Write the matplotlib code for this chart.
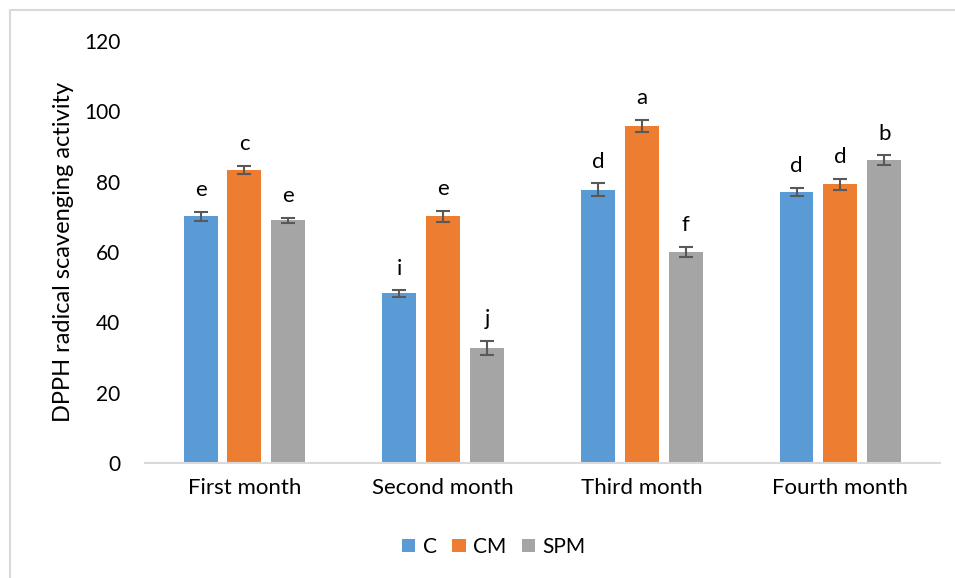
import numpy as np
import matplotlib.pyplot as plt
from matplotlib.patches import Rectangle

plt.rcParams['font.family'] = ['Lato', 'DejaVu Sans']

months = ['First month', 'Second month', 'Third month', 'Fourth month']
series = ['C', 'CM', 'SPM']
colors = ['#5b9bd5', '#ed7d31', '#a5a5a5']

c_vals = [70.1, 48.2, 77.7, 77.0]
cm_vals = [83.4, 70.1, 95.8, 79.2]
spm_vals = [69.0, 32.8, 60.0, 86.1]

c_err = [1.3, 0.9, 1.8, 1.2]
cm_err = [1.2, 1.6, 1.8, 1.6]
spm_err = [0.7, 2.0, 1.4, 1.4]

c_letters = ['e', 'i', 'd', 'd']
cm_letters = ['c', 'e', 'a', 'd']
spm_letters = ['e', 'j', 'f', 'b']

values = [c_vals, cm_vals, spm_vals]
errors = [c_err, cm_err, spm_err]
letters = [c_letters, cm_letters, spm_letters]

fig = plt.figure(figsize=(9.55, 5.78), dpi=100)
ax = fig.add_axes([0.152, 0.199, 0.832, 0.730])

# light grey chart-area border (left and top visible)
fig.patches.append(Rectangle((10 / 955, -0.1), 1.2, 1 - 10 / 578 + 0.1,
                             transform=fig.transFigure, fill=False,
                             edgecolor='#d9d9d9', linewidth=1.5))

x = np.arange(len(months))
width = 0.171
step = 0.221

for i, name in enumerate(series):
    pos = x + (i - 1) * step
    ax.bar(pos, values[i], width, color=colors[i], label=name,
           yerr=errors[i], ecolor='#595959',
           error_kw={'capsize': 5, 'elinewidth': 1.5, 'capthick': 1.5})
    for p, v, e, t in zip(pos, values[i], errors[i], letters[i]):
        ax.text(p, v + e + 3.3, t, ha='center', va='bottom', fontsize=16,
                color='black')

ax.set_xlim(-0.5, 3.5)
ax.set_ylim(0, 120)
ax.set_yticks(range(0, 121, 20))
ax.set_xticks(x)
ax.set_xticklabels(months, fontsize=16)
ax.tick_params(axis='y', length=0, pad=18, labelsize=15)
ax.tick_params(axis='x', length=0, pad=11)

for s in ['top', 'right', 'left']:
    ax.spines[s].set_visible(False)
ax.spines['bottom'].set_color('#d9d9d9')
ax.spines['bottom'].set_linewidth(1.5)

ax.set_ylabel('DPPH radical scavenging activity', fontsize=17)
ax.yaxis.set_label_coords(-0.09, 0.5)

fig.legend(loc='center', bbox_to_anchor=(0.517, 0.054), ncol=3, frameon=False,
           fontsize=15, handlelength=0.65, handleheight=0.65, handletextpad=0.35,
           columnspacing=0.75)

fig.savefig('out.png', dpi=100)
